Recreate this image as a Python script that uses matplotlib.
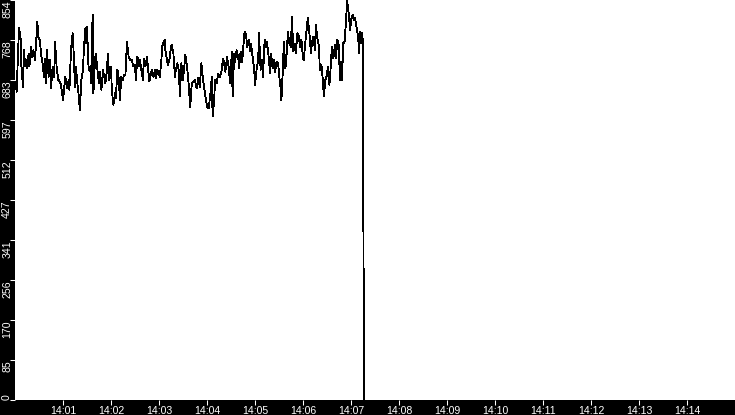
import matplotlib
matplotlib.use("Agg")
import matplotlib.pyplot as plt
from matplotlib.ticker import FuncFormatter

# seconds after 14:00:00
secs = [1, 2, 4, 5, 7, 8, 10, 11, 13, 14, 15, 17, 18, 20, 21, 23, 25, 26, 28, 29,
        31, 33, 35, 36, 38, 39, 40, 42, 44, 45, 47, 49, 50, 52, 54, 55, 57, 59, 60, 62,
        63, 65, 67, 68, 70, 72, 73, 75, 76, 78, 80, 81, 83, 85, 86, 88, 89, 90, 92, 94,
        95, 97, 98, 100, 101, 103, 105, 106, 108, 110, 113, 115, 116, 118, 120, 121, 123, 125, 126, 128,
        130, 131, 133, 135, 136, 138, 140, 142, 144, 146, 148, 150, 151, 153, 155, 156, 158, 160, 161, 163,
        165, 166, 168, 170, 171, 173, 175, 176, 178, 180, 181, 183, 184, 185, 187, 188, 190, 191, 193, 195,
        196, 198, 200, 201, 203, 205, 206, 208, 210, 213, 215, 217, 219, 221, 223, 225, 227, 229, 231, 233,
        235, 238, 240, 242, 244, 246, 247, 249, 250, 252, 254, 256, 258, 260, 261, 263, 265, 267, 269, 271,
        272, 274, 275, 277, 279, 280, 282, 284, 285, 287, 289, 290, 292, 294, 295, 297, 299, 300, 302, 304,
        305, 307, 309, 310, 312, 314, 315, 317, 319, 320, 322, 324, 325, 327, 329, 330, 332, 333, 335, 336,
        338, 340, 341, 343, 345, 346, 348, 350, 351, 353, 355, 356, 358, 360, 361, 363, 365, 366, 368, 370,
        371, 373, 375, 376, 378, 380, 381, 383, 385, 386, 388, 390, 391, 393, 395, 396, 398, 400, 401, 403,
        405, 406, 408, 409, 410, 412, 414, 415, 417, 419, 420, 422, 424, 425, 427, 429, 430, 431, 433, 434,
        435, 435.5, 436.5]

values = [680, 658, 747, 794, 772, 712, 669, 747, 712, 726, 708, 740, 712, 754, 733, 747, 726, 754, 808, 776,
          769, 733, 712, 690, 729, 676, 747, 690, 726, 665, 712, 690, 765, 712, 683, 683, 676, 655, 640, 676,
          690, 665, 683, 662, 747, 783, 754, 669, 712, 676, 644, 619, 683, 705, 747, 794, 761, 797, 705, 712,
          676, 822, 655, 726, 740, 705, 676, 701, 662, 705, 676, 705, 740, 683, 712, 662, 630, 655, 644, 705,
          683, 640, 690, 683, 694, 694, 765, 733, 726, 726, 712, 715, 683, 733, 712, 726, 705, 683, 729, 712,
          733, 712, 680, 697, 705, 690, 705, 687, 705, 697, 690, 726, 754, 761, 769, 747, 726, 715, 726, 754,
          758, 740, 690, 705, 719, 701, 648, 719, 683, 737, 712, 676, 626, 676, 680, 683, 665, 687, 669, 719,
          683, 648, 626, 623, 648, 690, 605, 640, 683, 676, 697, 690, 701, 729, 722, 701, 733, 712, 676, 744,
          648, 740, 722, 747, 733, 708, 744, 722, 747, 786, 779, 754, 769, 744, 761, 733, 705, 673, 705, 726,
          783, 705, 726, 690, 769, 754, 765, 733, 697, 740, 708, 726, 701, 722, 719, 697, 665, 640, 712, 765,
          708, 747, 786, 761, 754, 818, 744, 761, 740, 783, 776, 754, 769, 729, 726, 765, 797, 815, 783, 740,
          761, 776, 747, 801, 772, 754, 705, 715, 680, 648, 683, 694, 712, 673, 719, 754, 729, 758, 729, 769,
          754, 683, 722, 683, 761, 765, 815, 854, 826, 790, 811, 822, 811, 815, 794, 776, 740, 786, 761, 783,
          758, 367, 0]

y_max = 854
x_ticks = list(range(60, 900, 60))
y_ticks = [y_max * k / 10 for k in range(11)]

fig = plt.figure(figsize=(7.35, 4.15), dpi=100, facecolor="black")
ax = fig.add_axes([15 / 735, 15 / 415, 720 / 735, 400 / 415])
ax.set_facecolor("white")

ax.plot(secs, values, color="black", linewidth=0.6, antialiased=False)

ax.set_xlim(0, 900)
ax.set_ylim(0, y_max)
for s in ax.spines.values():
    s.set_visible(False)

ax.set_xticks(x_ticks)
ax.xaxis.set_major_formatter(FuncFormatter(lambda x, pos: "14:%02d" % int(x // 60)))
ax.set_yticks(y_ticks)
ax.set_yticklabels([str(int(y)) for y in y_ticks])

ax.tick_params(colors="white", length=3.6, width=0.75, labelsize=7.6)
ax.tick_params(axis="x", pad=1)
ax.tick_params(axis="y", pad=-1.5)
for lab in ax.get_xticklabels() + ax.get_yticklabels():
    lab.set_family("Liberation Sans")
for lab in ax.get_yticklabels():
    lab.set_rotation(90)
    lab.set_va("top")
    lab.set_ha("right")
ax.get_yticklabels()[0].set_va("bottom")

fig.savefig("out.png", dpi=100, facecolor="black")
